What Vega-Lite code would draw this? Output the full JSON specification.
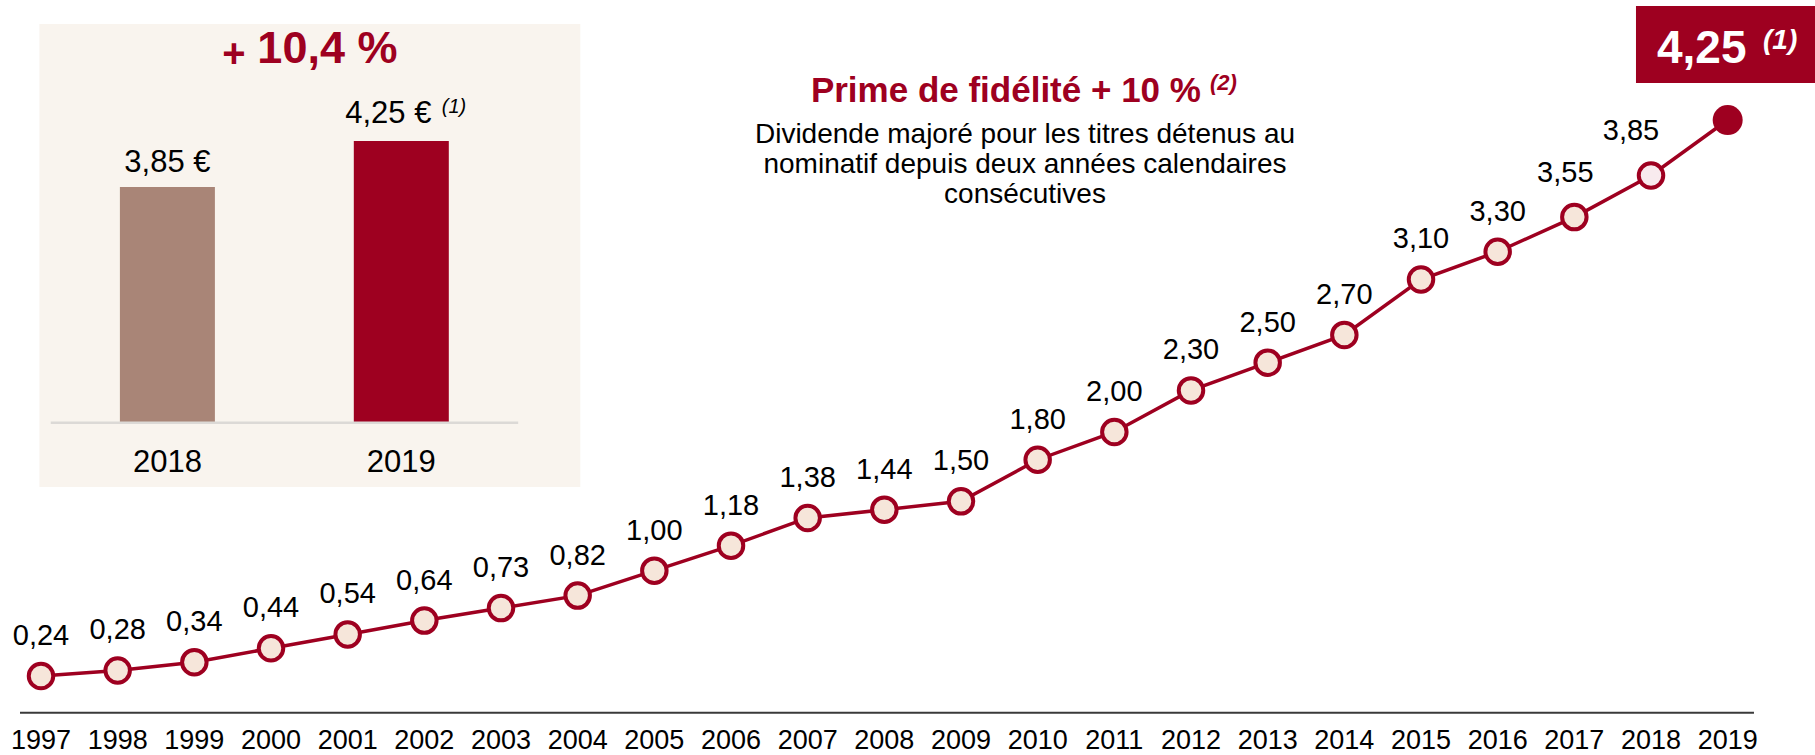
{
  "$schema": "https://vega.github.io/schema/vega-lite/v6.json",
  "width": 1815,
  "height": 755,
  "padding": 0,
  "autosize": {"type": "none"},
  "background": "white",
  "config": {
    "view": {"stroke": null},
    "font": "Liberation Sans",
    "locale": {"number": {"decimal": ",", "thousands": "\u00a0", "grouping": [3], "currency": ["", " €"]}}
  },
  "datasets": {
    "divs": [
      {"year": 1997, "value": 0.24}, {"year": 1998, "value": 0.28}, {"year": 1999, "value": 0.34},
      {"year": 2000, "value": 0.44}, {"year": 2001, "value": 0.54}, {"year": 2002, "value": 0.64},
      {"year": 2003, "value": 0.73}, {"year": 2004, "value": 0.82}, {"year": 2005, "value": 1.00},
      {"year": 2006, "value": 1.18}, {"year": 2007, "value": 1.38}, {"year": 2008, "value": 1.44},
      {"year": 2009, "value": 1.50}, {"year": 2010, "value": 1.80}, {"year": 2011, "value": 2.00},
      {"year": 2012, "value": 2.30}, {"year": 2013, "value": 2.50}, {"year": 2014, "value": 2.70},
      {"year": 2015, "value": 3.10}, {"year": 2016, "value": 3.30}, {"year": 2017, "value": 3.55},
      {"year": 2018, "value": 3.85}, {"year": 2019, "value": 4.25}
    ],
    "inset": [{"year": 2018, "value": 3.85}, {"year": 2019, "value": 4.25}],
    "one": [{}]
  },
  "layer": [
    {
      "layer": [
        {
          "data": {"name": "one"},
          "mark": {"type": "rect", "color": "#f9f4ee"},
          "encoding": {
            "x": {"datum": 2017.4528, "type": "quantitative", "scale": {"domain": [2017.3057, 2025.0225], "nice": false, "zero": false}, "axis": null},
            "x2": {"datum": 2019.7653},
            "y": {"datum": 5.267, "type": "quantitative", "scale": {"domain": [-1.0896, 5.4757], "nice": false, "zero": false}, "axis": null},
            "y2": {"datum": 1.2409}
          }
        },
        {
          "data": {"name": "inset"},
          "mark": {"type": "bar", "width": 95},
          "encoding": {
            "x": {"field": "year", "type": "quantitative", "scale": {"domain": [2017.3057, 2025.0225], "nice": false, "zero": false}, "axis": null},
            "y": {"field": "value", "type": "quantitative", "scale": {"domain": [-1.0896, 5.4757], "nice": false, "zero": false}, "axis": null},
            "y2": {"datum": 1.8},
            "color": {"condition": {"test": "datum.year == 2019", "value": "#9e0020"}, "value": "#a98577"}
          }
        },
        {
          "data": {"name": "one"},
          "mark": {"type": "rule", "color": "#dcd9d6", "strokeWidth": 2.5},
          "encoding": {
            "x": {"datum": 2017.5013, "type": "quantitative"},
            "x2": {"datum": 2019.4996},
            "y": {"datum": 1.8, "type": "quantitative"}
          }
        },
        {
          "data": {"name": "inset"},
          "mark": {"type": "text", "fontSize": 31, "color": "#000000", "baseline": "alphabetic", "align": "center"},
          "encoding": {
            "x": {"field": "year", "type": "quantitative"},
            "y": {"datum": 1.374, "type": "quantitative"},
            "text": {"field": "year", "type": "nominal"}
          }
        },
        {
          "data": {"name": "inset"},
          "transform": [{"filter": "datum.year == 2018"}],
          "mark": {"type": "text", "fontSize": 31, "color": "#000000", "baseline": "alphabetic", "align": "center", "dy": -15},
          "encoding": {
            "x": {"field": "year", "type": "quantitative"},
            "y": {"field": "value", "type": "quantitative"},
            "text": {"field": "value", "type": "quantitative", "format": "$.2f"}
          }
        },
        {
          "data": {"name": "inset"},
          "transform": [{"filter": "datum.year == 2019"}],
          "mark": {"type": "text", "fontSize": 31, "color": "#000000", "baseline": "alphabetic", "align": "center", "dx": -13, "dy": -17.5},
          "encoding": {
            "x": {"field": "year", "type": "quantitative"},
            "y": {"field": "value", "type": "quantitative"},
            "text": {"field": "value", "type": "quantitative", "format": "$.2f"}
          }
        },
        {
          "data": {"name": "inset"},
          "transform": [{"filter": "datum.year == 2019"}],
          "mark": {"type": "text", "fontSize": 20, "fontStyle": "italic", "color": "#000000", "baseline": "alphabetic", "align": "left", "dx": 40.5, "dy": -28, "text": "(1)"},
          "encoding": {
            "x": {"field": "year", "type": "quantitative"},
            "y": {"field": "value", "type": "quantitative"}
          }
        },
        {
          "data": {"name": "one"},
          "mark": {"type": "text", "fontSize": 45, "fontWeight": "bold", "color": "#9e0020", "baseline": "alphabetic", "align": "center", "text": "10,4 %"},
          "encoding": {
            "x": {"datum": 2018.6841, "type": "quantitative"},
            "y": {"datum": 4.9253, "type": "quantitative"}
          }
        },
        {
          "data": {"name": "one"},
          "mark": {"type": "text", "fontSize": 40, "fontWeight": "bold", "color": "#9e0020", "baseline": "alphabetic", "align": "center", "text": "+"},
          "encoding": {
            "x": {"datum": 2018.2849, "type": "quantitative"},
            "y": {"datum": 4.8931, "type": "quantitative"}
          }
        }
      ]
    },
    {
      "layer": [
        {
          "data": {"name": "one"},
          "mark": {"type": "rule", "color": "#3a3a3a", "strokeWidth": 2},
          "encoding": {
            "x": {"datum": 1996.7261, "type": "quantitative", "scale": {"domain": [1996.4652, 2020.139], "nice": false, "zero": false}, "axis": null},
            "x2": {"datum": 2019.343},
            "y": {"datum": -0.0245, "type": "quantitative", "scale": {"domain": [-0.3296, 5.1157], "nice": false, "zero": false}, "axis": null}
          }
        },
        {
          "data": {"name": "divs"},
          "mark": {"type": "line", "color": "#9e0020", "strokeWidth": 3.5},
          "encoding": {
            "x": {"field": "year", "type": "quantitative", "scale": {"domain": [1996.4652, 2020.139], "nice": false, "zero": false}, "axis": null},
            "y": {"field": "value", "type": "quantitative", "scale": {"domain": [-0.3296, 5.1157], "nice": false, "zero": false}, "axis": null}
          }
        },
        {
          "data": {"name": "divs"},
          "transform": [{"filter": "datum.year < 2019"}],
          "mark": {"type": "point", "shape": "circle", "filled": true, "size": 600, "stroke": "#9e0020", "strokeWidth": 4, "opacity": 1},
          "encoding": {
            "x": {"field": "year", "type": "quantitative"},
            "y": {"field": "value", "type": "quantitative"},
            "fill": {"condition": {"test": "datum.year == 2018", "value": "#f8eaee"}, "value": "#f6e6da"}
          }
        },
        {
          "data": {"name": "divs"},
          "transform": [{"filter": "datum.year == 2019"}],
          "mark": {"type": "point", "shape": "circle", "filled": true, "size": 900, "color": "#9e0020", "opacity": 1},
          "encoding": {
            "x": {"field": "year", "type": "quantitative"},
            "y": {"field": "value", "type": "quantitative"}
          }
        },
        {
          "data": {"name": "divs"},
          "transform": [{"filter": "datum.year < 2017"}],
          "mark": {"type": "text", "fontSize": 29, "color": "#000000", "baseline": "alphabetic", "align": "center", "dy": -31},
          "encoding": {
            "x": {"field": "year", "type": "quantitative"},
            "y": {"field": "value", "type": "quantitative"},
            "text": {"field": "value", "type": "quantitative", "format": ".2f"}
          }
        },
        {
          "data": {"name": "divs"},
          "transform": [{"filter": "datum.year == 2017"}],
          "mark": {"type": "text", "fontSize": 29, "color": "#000000", "baseline": "alphabetic", "align": "center", "dx": -9, "dy": -35},
          "encoding": {
            "x": {"field": "year", "type": "quantitative"},
            "y": {"field": "value", "type": "quantitative"},
            "text": {"field": "value", "type": "quantitative", "format": ".2f"}
          }
        },
        {
          "data": {"name": "divs"},
          "transform": [{"filter": "datum.year == 2018"}],
          "mark": {"type": "text", "fontSize": 29, "color": "#000000", "baseline": "alphabetic", "align": "center", "dx": -20, "dy": -35},
          "encoding": {
            "x": {"field": "year", "type": "quantitative"},
            "y": {"field": "value", "type": "quantitative"},
            "text": {"field": "value", "type": "quantitative", "format": ".2f"}
          }
        },
        {
          "data": {"name": "divs"},
          "mark": {"type": "text", "fontSize": 27, "color": "#000000", "baseline": "alphabetic", "align": "center"},
          "encoding": {
            "x": {"field": "year", "type": "quantitative"},
            "y": {"datum": -0.2863, "type": "quantitative"},
            "text": {"field": "year", "type": "nominal"}
          }
        },
        {
          "data": {"name": "one"},
          "mark": {"type": "text", "fontSize": 35, "fontWeight": "bold", "color": "#9e0020", "baseline": "alphabetic", "align": "center", "text": "Prime de fidélité + 10 %"},
          "encoding": {
            "x": {"datum": 2009.5855, "type": "quantitative"},
            "y": {"datum": 4.3823, "type": "quantitative"}
          }
        },
        {
          "data": {"name": "one"},
          "mark": {"type": "text", "fontSize": 22, "fontWeight": "bold", "fontStyle": "italic", "color": "#9e0020", "baseline": "alphabetic", "align": "left", "text": "(2)"},
          "encoding": {
            "x": {"datum": 2012.2474, "type": "quantitative"},
            "y": {"datum": 4.4638, "type": "quantitative"}
          }
        },
        {
          "data": {"name": "one"},
          "mark": {"type": "text", "fontSize": 28, "color": "#000000", "baseline": "alphabetic", "align": "center", "lineHeight": 30, "lineBreak": "\n", "text": "Dividende majoré pour les titres détenus au\nnominatif depuis deux années calendaires\nconsécutives"},
          "encoding": {
            "x": {"datum": 2009.8346, "type": "quantitative"},
            "y": {"datum": 4.0822, "type": "quantitative"}
          }
        },
        {
          "data": {"name": "one"},
          "mark": {"type": "rect", "color": "#9e0020"},
          "encoding": {
            "x": {"datum": 2017.804, "type": "quantitative"},
            "x2": {"datum": 2020.139},
            "y": {"datum": 5.0724, "type": "quantitative"},
            "y2": {"datum": 4.5172}
          }
        },
        {
          "data": {"name": "one"},
          "mark": {"type": "text", "fontSize": 46, "fontWeight": "bold", "color": "#ffffff", "baseline": "alphabetic", "align": "left", "text": "4,25"},
          "encoding": {
            "x": {"datum": 2018.0778, "type": "quantitative"},
            "y": {"datum": 4.6592, "type": "quantitative"}
          }
        },
        {
          "data": {"name": "one"},
          "mark": {"type": "text", "fontSize": 28, "fontWeight": "bold", "fontStyle": "italic", "color": "#ffffff", "baseline": "alphabetic", "align": "left", "text": "(1)"},
          "encoding": {
            "x": {"datum": 2019.4605, "type": "quantitative"},
            "y": {"datum": 4.7623, "type": "quantitative"}
          }
        }
      ]
    }
  ],
  "resolve": {"scale": {"x": "independent", "y": "independent"}}
}
